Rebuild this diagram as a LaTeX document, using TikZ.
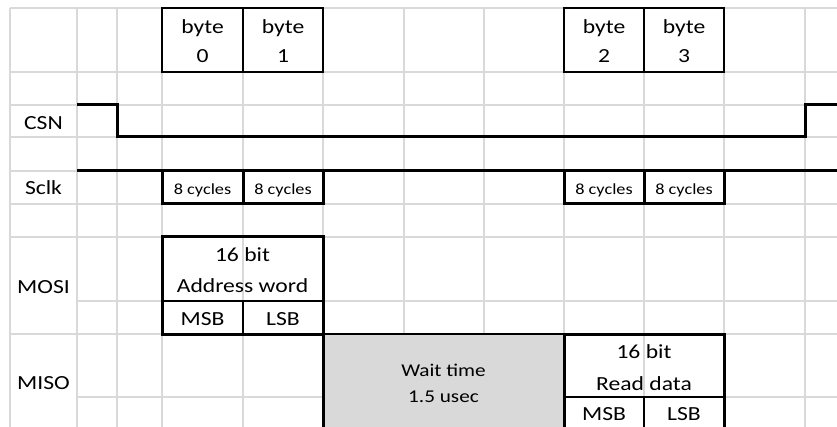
\documentclass[tikz,border=0pt]{standalone}
\usepackage{fontspec}
\setmainfont[FakeStretch=1.18]{Carlito}
\definecolor{gridc}{HTML}{D9D9D9}
\definecolor{waitc}{HTML}{D9D9D9}
\begin{document}
\begin{tikzpicture}[x=1pt,y=-1pt,
  gridline/.style={draw=gridc,line width=1.3pt},
  sig/.style={draw=black,line width=3pt},
  thinbox/.style={draw=black,line width=2pt},
  lbl/.style={anchor=base,inner sep=0pt,font=\fontsize{20}{24}\selectfont},
  cyc/.style={anchor=base,inner sep=0pt,font=\fontsize{15.5}{19}\selectfont},
  waittxt/.style={anchor=base,inner sep=0pt,font=\fontsize{18}{22}\selectfont}
]
\useasboundingbox (0,0) rectangle (837,427);
\begin{scope}
\clip (0,0) rectangle (837,427);
% spreadsheet grid
\foreach \x in {10,77,117,162,243,323,404,484,564,644,724,805}
  \draw[gridline] (\x,8) -- (\x,440);
\foreach \y in {8,72,105,137,171,204,237,334}
  \draw[gridline] (10,\y) -- (850,\y);
\foreach \y in {301,397}
  \draw[gridline] (77,\y) -- (850,\y);
% wait box
\fill[waitc] (323,334) rectangle (564,440);
\draw[thinbox] (323,334) -- (564,334);
\draw[sig] (323,334) -- (323,440);
% byte boxes
\draw[thinbox] (162,8) rectangle (323,72);
\draw[thinbox] (243,8) -- (243,72);
\draw[thinbox] (564,8) rectangle (724,72);
\draw[thinbox] (644,8) -- (644,72);
% CSN
\draw[sig] (77,105) -- (117,105) -- (117,137) -- (805,137) -- (805,105) -- (850,105);
% Sclk
\draw[sig] (77,171) -- (850,171);
\draw[sig] (162,171) -- (162,204) -- (323,204) -- (323,171);
\draw[sig] (243,171) -- (243,204);
\draw[sig] (564,171) -- (564,204) -- (724,204) -- (724,171);
\draw[sig] (644,171) -- (644,204);
% MOSI box
\draw[sig] (162,237) rectangle (323,334);
\draw[thinbox] (162,301) -- (323,301);
\draw[thinbox] (243,301) -- (243,334);
% MISO read box
\draw[sig] (564,334) rectangle (724,440);
\draw[thinbox] (564,397) -- (724,397);
\draw[thinbox] (644,397) -- (644,440);
\end{scope}
% row labels
\node[lbl] (lcsn)  at (43.5,130) {CSN};
\node[lbl] (lsclk) at (43.5,195) {Sclk};
\node[lbl] (lmosi) at (43.5,294) {MOSI};
\node[lbl] (lmiso) at (43.5,389) {MISO};
% byte labels
\node[lbl] (b0a) at (202.5,34) {byte};
\node[lbl] (b0b) at (202.5,63) {0};
\node[lbl] (b1a) at (283,34) {byte};
\node[lbl] (b1b) at (283,63) {1};
\node[lbl] (b2a) at (604,34) {byte};
\node[lbl] (b2b) at (604,63) {2};
\node[lbl] (b3a) at (684,34) {byte};
\node[lbl] (b3b) at (684,63) {3};
% cycles
\node[cyc] (c0) at (202.5,195) {8 cycles};
\node[cyc] (c1) at (283,195) {8 cycles};
\node[cyc] (c2) at (604,195) {8 cycles};
\node[cyc] (c3) at (684,195) {8 cycles};
% MOSI content
\node[lbl] (aw1) at (242.5,262) {16 bit};
\node[lbl] (aw2) at (242.5,293) {Address word};
\node[lbl] (amsb) at (202.5,325) {MSB};
\node[lbl] (alsb) at (283,325) {LSB};
% wait
\node[waittxt] (w1) at (443.5,376) {Wait time};
\node[waittxt] (w2) at (443.5,402) {1.5 usec};
% MISO content
\node[lbl] (rd1) at (644,358) {16 bit};
\node[lbl] (rd2) at (644,390) {Read data};
\node[lbl] (rmsb) at (604,420) {MSB};
\node[lbl] (rlsb) at (684,420) {LSB};
\end{tikzpicture}
\end{document}
